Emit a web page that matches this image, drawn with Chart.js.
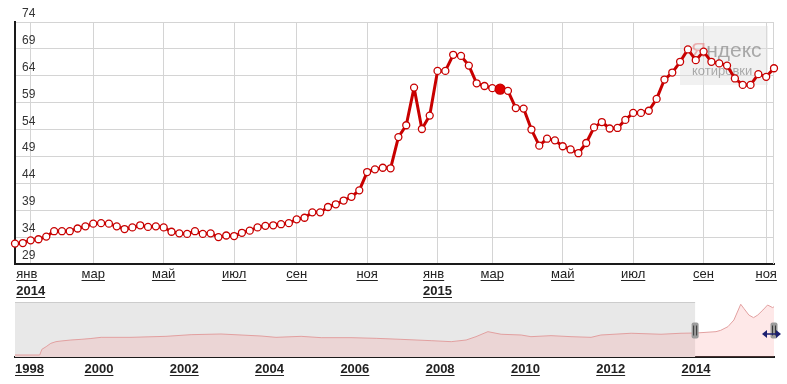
<!DOCTYPE html>
<html>
<head>
<meta charset="utf-8">
<script src="https://cdn.jsdelivr.net/npm/chart.js@4/dist/chart.umd.min.js"></script>
<style>
  html, body { margin: 0; padding: 0; background: #fff; }
  #wrap { position: relative; width: 787px; height: 384px; overflow: hidden; }
  #main { position: absolute; left: 0; top: 0; }
  #nav { position: absolute; left: 0; top: 300px; }
</style>
</head>
<body>
<div id="wrap">
  <canvas id="main" width="787" height="300"></canvas>
  <canvas id="nav" width="787" height="84"></canvas>
</div>
<script>
// weekly USD/RUB, Dec 2013 - Oct 2015
const usdRub = [
  32.8, 32.9, 33.4, 33.6, 34.1, 35.1, 35.1, 35.1, 35.6, 36.0,
  36.5, 36.6, 36.5, 36.0, 35.5, 35.8, 36.2, 35.9, 36.0, 35.8,
  35.0, 34.7, 34.6, 35.1, 34.6, 34.7, 34.0, 34.3, 34.2, 34.8,
  35.2, 35.8, 36.1, 36.2, 36.4, 36.6, 37.3, 37.6, 38.6, 38.6,
  39.6, 40.1, 40.8, 41.5, 42.7, 46.1, 46.6, 46.9, 46.8, 52.6,
  54.8, 61.8, 54.1, 56.6, 64.9, 64.9, 67.9, 67.7, 65.9, 62.6,
  62.1, 61.7, 61.5, 61.2, 58.0, 57.9, 54.0, 51.0, 52.3, 52.0,
  50.9, 50.3, 49.6, 51.5, 54.4, 55.4, 54.2, 54.3, 55.8, 57.1,
  57.1, 57.5, 59.7, 63.3, 64.6, 66.6, 68.9, 66.9, 68.5, 66.6,
  66.3, 65.9, 63.5, 62.3, 62.3, 64.3, 63.8, 65.4
];
const activeIndex = 62;

// month ticks on the main axis (index into usdRub)
const tickIndex = [2, 10, 19, 28, 36, 45, 54, 61, 70, 79, 88, 96];
const tickMonths = ['янв', 'мар', 'май', 'июл', 'сен', 'ноя', 'янв', 'мар', 'май', 'июл', 'сен', 'ноя'];
const tickYears = ['2014', '', '', '', '', '', '2015', '', '', '', '', ''];
const yTicks = [29, 34, 39, 44, 49, 54, 59, 64, 69, 74];

// navigator: whole history since 1998
const navYears = [
  1998.03, 1998.61, 1998.66, 1998.76, 1998.87, 1998.99, 1999.11, 1999.34, 1999.58, 1999.81,
  2000.05, 2000.75, 2001.57, 2002.16, 2002.86, 2003.33, 2003.80, 2004.15, 2004.74, 2005.21,
  2005.91, 2006.50, 2007.08, 2007.79, 2008.26, 2008.61, 2008.84, 2009.12, 2009.43, 2009.90,
  2010.13, 2010.60, 2011.07, 2011.54, 2011.77, 2012.48, 2013.18, 2013.65, 2014.00, 2014.47,
  2014.58, 2014.75, 2014.89, 2015.05, 2015.12, 2015.24, 2015.35, 2015.45, 2015.57, 2015.68,
  2015.80, 2015.83
];
const navRate = [
  6.4, 6.4, 13.2, 16.4, 20.4, 22.4, 23.2, 24.4, 25.2, 26.2,
  27.6, 27.6, 28.8, 30.8, 31.6, 30.4, 29.2, 27.6, 28.8, 27.2,
  27.2, 26.4, 25.2, 23.6, 22.4, 24.4, 28.4, 34.4, 31.3, 30.4,
  28.4, 29.6, 28.4, 27.6, 30.4, 32.5, 31.3, 32.5, 32.8, 34.4,
  36.0, 40.4, 48.4, 67.3, 62.5, 54.4, 51.2, 54.4, 60.4, 66.4,
  63.2, 64.4
];
const navTicks = [1998, 2000, 2002, 2004, 2006, 2008, 2010, 2012, 2014];
const navMin = 1998.03;
const navMax = 2015.83;
const navSelStart = 2013.98;

const FONT = '"Liberation Sans", Arial, sans-serif';
const RED = '#c80000';
const GRID = '#d4d4d4';
const TEXT = '#222';

function underlined(ctx, text, x, y) {
  ctx.fillText(text, x, y);
  ctx.fillRect(x, y + 2, ctx.measureText(text).width, 1);
}

const mainDecor = {
  id: 'mainDecor',
  beforeDatasetsDraw(chart) {
    const { ctx, chartArea: a } = chart;
    ctx.save();
    // right edge of the plot
    ctx.fillStyle = GRID;
    ctx.fillRect(a.right - 1, a.top, 1, a.bottom - a.top);
    // watermark
    const x0 = a.right - 94, y0 = a.top + 4;
    ctx.fillStyle = 'rgba(225,225,225,0.45)';
    ctx.fillRect(x0, y0, 88, 59);
    ctx.font = '21px ' + FONT;
    ctx.fillStyle = 'rgba(230,120,120,0.55)';
    ctx.fillText('Я', x0 + 11, y0 + 31);
    const w = ctx.measureText('Я').width;
    ctx.fillStyle = 'rgba(110,110,110,0.55)';
    ctx.fillText('ндекс', x0 + 11 + w, y0 + 31);
    ctx.font = '13px ' + FONT;
    ctx.fillText('котировки', x0 + 12, y0 + 49);
    ctx.restore();
  },
  afterDraw(chart) {
    const { ctx, chartArea: a, scales: { x, y } } = chart;
    ctx.save();
    ctx.fillStyle = '#333';
    ctx.font = '12px ' + FONT;
    ctx.textBaseline = 'alphabetic';
    yTicks.forEach(v => ctx.fillText(String(v), a.left + 7, y.getPixelForValue(v) - 5));

    ctx.fillStyle = TEXT;
    tickIndex.forEach((idx, k) => {
      const px = x.getPixelForValue(idx);
      ctx.font = '13px ' + FONT;
      const wm = ctx.measureText(tickMonths[k]).width;
      ctx.font = 'bold 13px ' + FONT;
      const wy = tickYears[k] ? ctx.measureText(tickYears[k]).width : 0;
      const bw = Math.max(wm, wy);
      let left = Math.max(px - bw / 2, a.left);
      left = Math.min(left, chart.width - bw - 1);
      ctx.font = '13px ' + FONT;
      underlined(ctx, tickMonths[k], left, a.bottom + 14);
      if (tickYears[k]) {
        ctx.font = 'bold 13px ' + FONT;
        underlined(ctx, tickYears[k], left, a.bottom + 31);
      }
    });
    ctx.restore();
  }
};

new Chart(document.getElementById('main'), {
  type: 'line',
  data: {
    labels: usdRub.map((_, i) => {
      const k = tickIndex.indexOf(i);
      return k >= 0 ? tickMonths[k] : '';
    }),
    datasets: [{
      data: usdRub,
      borderColor: RED,
      borderWidth: 3,
      borderJoinStyle: 'round',
      borderCapStyle: 'round',
      tension: 0,
      pointRadius: c => (c.dataIndex === activeIndex ? 5 : 3.5),
      pointBorderWidth: 1.3,
      pointBorderColor: RED,
      pointBackgroundColor: c => (c.dataIndex === activeIndex ? '#e00000' : '#fff'),
    }],
  },
  options: {
    responsive: false,
    animation: false,
    events: [],
    layout: { padding: { left: 15, right: 13, top: 22, bottom: 36 } },
    scales: {
      x: {
        type: 'category',
        offset: false,
        afterBuildTicks: s => { s.ticks = tickIndex.map(v => ({ value: v })); },
        grid: { color: GRID, drawTicks: false },
        border: { color: '#1a1a1a', width: 2 },
        ticks: { display: false },
      },
      y: {
        min: 29,
        max: 74,
        afterBuildTicks: s => { s.ticks = yTicks.map(v => ({ value: v })); },
        grid: { color: GRID, drawTicks: false },
        border: { color: '#1a1a1a', width: 2 },
        ticks: { display: false },
      },
    },
    plugins: { legend: { display: false }, tooltip: { enabled: false } },
  },
  plugins: [mainDecor],
});

function roundRect(ctx, x, y, w, h, r) {
  ctx.beginPath();
  ctx.moveTo(x + r, y);
  ctx.arcTo(x + w, y, x + w, y + h, r);
  ctx.arcTo(x + w, y + h, x, y + h, r);
  ctx.arcTo(x, y + h, x, y, r);
  ctx.arcTo(x, y, x + w, y, r);
  ctx.closePath();
}

function handle(ctx, cx, cy) {
  ctx.fillStyle = '#9c9c9c';
  roundRect(ctx, cx - 3.5, cy - 8, 7, 16, 2);
  ctx.fill();
  ctx.fillStyle = '#3a3a3a';
  ctx.fillRect(cx - 2, cy - 5, 1, 10);
  ctx.fillRect(cx + 1, cy - 5, 1, 10);
}

const navDecor = {
  id: 'navDecor',
  beforeDatasetsDraw(chart) {
    const { ctx, chartArea: a, scales: { x } } = chart;
    const sx = x.getPixelForValue(navSelStart);
    ctx.save();
    ctx.fillStyle = '#e8e8e8';
    ctx.fillRect(a.left, a.top, sx - a.left, a.bottom - a.top);
    ctx.fillStyle = '#cccccc';
    ctx.fillRect(a.left, a.top, sx - a.left, 1);
    ctx.restore();
  },
  afterDraw(chart) {
    const { ctx, chartArea: a, scales: { x } } = chart;
    ctx.save();
    ctx.fillStyle = TEXT;
    ctx.font = 'bold 13px ' + FONT;
    navTicks.forEach(t => {
      const label = String(t);
      const w = ctx.measureText(label).width;
      const left = Math.max(x.getPixelForValue(t) - w / 2, a.left);
      underlined(ctx, label, left, a.bottom + 16);
    });
    const sx = x.getPixelForValue(navSelStart);
    const ex = x.getPixelForValue(navMax);
    const cy = 30.5;
    handle(ctx, sx, cy);
    handle(ctx, ex, cy);
    // resize arrow
    ctx.strokeStyle = '#1c2070';
    ctx.fillStyle = '#1c2070';
    ctx.lineWidth = 1.5;
    const ay = cy + 3.5, l = ex - 12, r = ex + 7;
    ctx.beginPath();
    ctx.moveTo(l + 2, ay);
    ctx.lineTo(r - 2, ay);
    ctx.stroke();
    ctx.beginPath();
    ctx.moveTo(l, ay); ctx.lineTo(l + 5, ay - 4); ctx.lineTo(l + 5, ay + 4); ctx.closePath();
    ctx.fill();
    ctx.beginPath();
    ctx.moveTo(r, ay); ctx.lineTo(r - 5, ay - 4); ctx.lineTo(r - 5, ay + 4); ctx.closePath();
    ctx.fill();
    ctx.restore();
  }
};

new Chart(document.getElementById('nav'), {
  type: 'line',
  data: {
    datasets: [{
      data: navYears.map((t, i) => ({ x: t, y: navRate[i] })),
      borderColor: '#e2a0a0',
      borderWidth: 1,
      backgroundColor: 'rgba(248,140,140,0.2)',
      fill: 'start',
      pointRadius: 0,
      tension: 0,
    }],
  },
  options: {
    responsive: false,
    animation: false,
    events: [],
    layout: { padding: { left: 15, right: 13, top: 2, bottom: 27 } },
    scales: {
      x: {
        type: 'linear',
        min: navMin,
        max: navMax,
        grid: { display: false, drawTicks: false },
        border: { color: '#1a1a1a', width: 2 },
        ticks: { display: false },
      },
      y: { min: 4, max: 70, display: false },
    },
    plugins: { legend: { display: false }, tooltip: { enabled: false } },
  },
  plugins: [navDecor],
});
</script>
</body>
</html>
